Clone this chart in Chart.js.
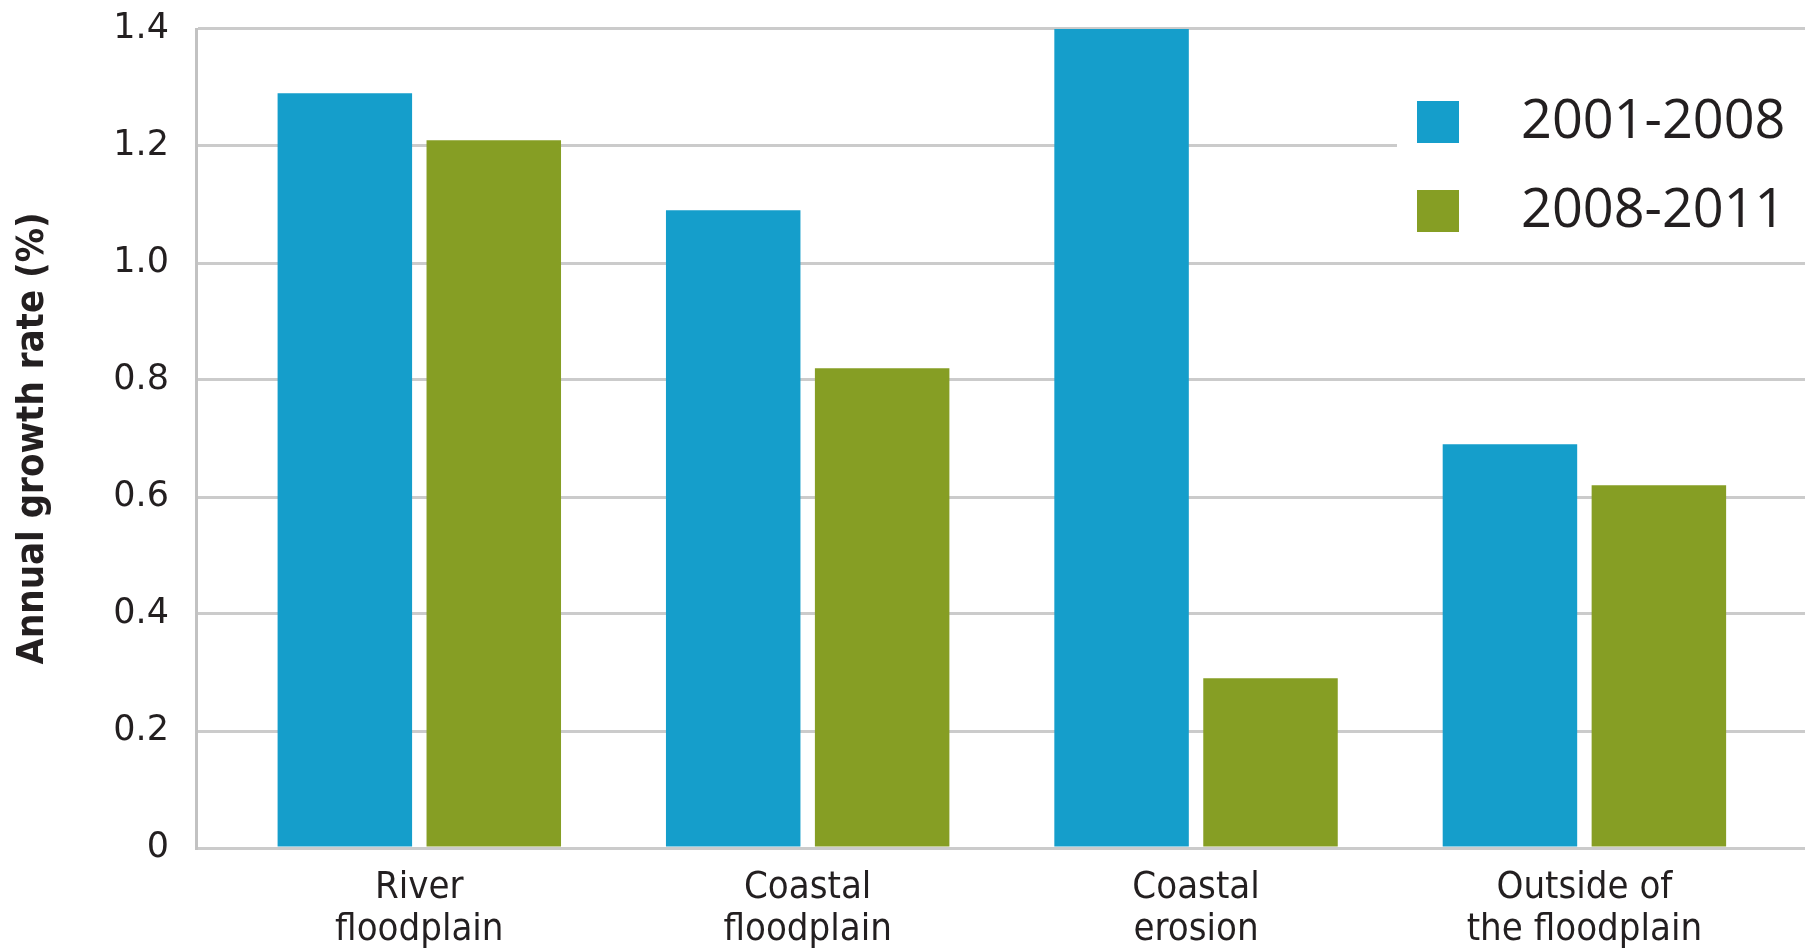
<!DOCTYPE html>
<html>
<head>
<meta charset="utf-8">
<title>Annual growth rate</title>
<script src="https://cdn.jsdelivr.net/npm/chart.js@4.4.1/dist/chart.umd.min.js"></script>
<style>
  html, body { margin: 0; padding: 0; background: #ffffff; }
  #wrap { position: relative; width: 1805px; height: 950px; }
</style>
</head>
<body>
<div id="wrap"><canvas id="chart"></canvas></div>
<script>
// Zone categories (each label split over two lines)
const categories = [
  ['River', 'floodplain'],
  ['Coastal', 'floodplain'],
  ['Coastal', 'erosion'],
  ['Outside of', 'the floodplain']
];
// Annual growth rate (%) per period
const period1Label = '2001-2008';
const period1Values = [1.29, 1.09, 1.40, 0.69];
const period2Label = '2008-2011';
const period2Values = [1.21, 0.82, 0.29, 0.62];
// Y axis tick labels, 0 to 1.4 in steps of 0.2
const yTickLabels = ['0', '0.2', '0.4', '0.6', '0.8', '1.0', '1.2', '1.4'];

const BLUE = '#159ecb';
const GREEN = '#869e24';
const GRID = '#cbcbcb';
const TEXT = '#231f20';

const toPoints = vals => vals.map((v, i) => ({ x: i, y: v }));

// Legend drawn inside the plot area, top right, on a white panel
const insideLegend = {
  id: 'insideLegend',
  afterDatasetsDraw(chart) {
    const ctx = chart.ctx;
    const area = chart.chartArea;
    ctx.save();
    ctx.fillStyle = '#ffffff';
    ctx.fillRect(1397, 44, area.right - 1397, 206);
    ctx.font = '54px "Open Sans", sans-serif';
    ctx.textBaseline = 'middle';
    ctx.textAlign = 'left';
    chart.data.datasets.forEach((ds, i) => {
      const cy = 122 + i * 89;
      ctx.fillStyle = ds.backgroundColor;
      ctx.fillRect(1417, cy - 21, 42, 42);
      ctx.fillStyle = TEXT;
      ctx.fillText(ds.label, 1521, cy + 1);
    });
    ctx.restore();
  }
};

new Chart(document.getElementById('chart'), {
  type: 'bar',
  data: {
    datasets: [
      { label: period1Label, data: toPoints(period1Values), backgroundColor: BLUE, borderWidth: 0,
        categoryPercentage: 0.767, barPercentage: 0.903 },
      { label: period2Label, data: toPoints(period2Values), backgroundColor: GREEN, borderWidth: 0,
        categoryPercentage: 0.767, barPercentage: 0.903 }
    ]
  },
  options: {
    responsive: true,
    maintainAspectRatio: false,
    animation: false,
    devicePixelRatio: 1,
    layout: { padding: { top: 29, right: 0, left: 0, bottom: 0 } },
    plugins: {
      legend: { display: false },
      tooltip: { enabled: false }
    },
    scales: {
      x: {
        type: 'linear',
        offset: false,
        bounds: 'data',
        min: -0.575,
        max: 3.568,
        afterBuildTicks(scale) {
          scale.ticks = categories.map((c, i) => ({ value: i }));
        },
        afterFit(scale) {
          scale.height = 102;
          scale.paddingLeft = 0;
          scale.paddingRight = 0;
        },
        grid: { display: false, drawTicks: false, offset: false },
        border: { display: false },
        ticks: {
          autoSkip: false,
          maxRotation: 0,
          minRotation: 0,
          padding: 19,
          color: TEXT,
          font: { family: '"DejaVu Sans Condensed", "Liberation Sans Narrow", sans-serif', size: 38, lineHeight: 1.1 },
          callback: (value) => categories[Math.round(value)]
        }
      },
      y: {
        min: 0,
        max: 1.4,
        afterFit(scale) {
          scale.width = 196;
          scale.paddingTop = 0;
          scale.paddingBottom = 0;
        },
        afterBuildTicks(scale) {
          scale.ticks = yTickLabels.map((t, i) => ({ value: i * 0.2 }));
        },
        grid: { color: GRID, lineWidth: 3, drawTicks: false },
        border: { display: true, color: '#c2c2c2', width: 3 },
        ticks: {
          padding: 27,
          color: TEXT,
          font: { family: '"DejaVu Sans", sans-serif', size: 35 },
          callback: (value, index) => yTickLabels[index]
        },
        title: {
          display: true,
          text: 'Annual growth rate (%)',
          color: TEXT,
          padding: { top: 10, bottom: 0 },
          font: { family: '"DejaVu Sans Condensed", "Liberation Sans Narrow", sans-serif', size: 38, weight: 'bold', lineHeight: 1.2 }
        }
      }
    }
  },
  plugins: [insideLegend]
});
</script>
</body>
</html>
